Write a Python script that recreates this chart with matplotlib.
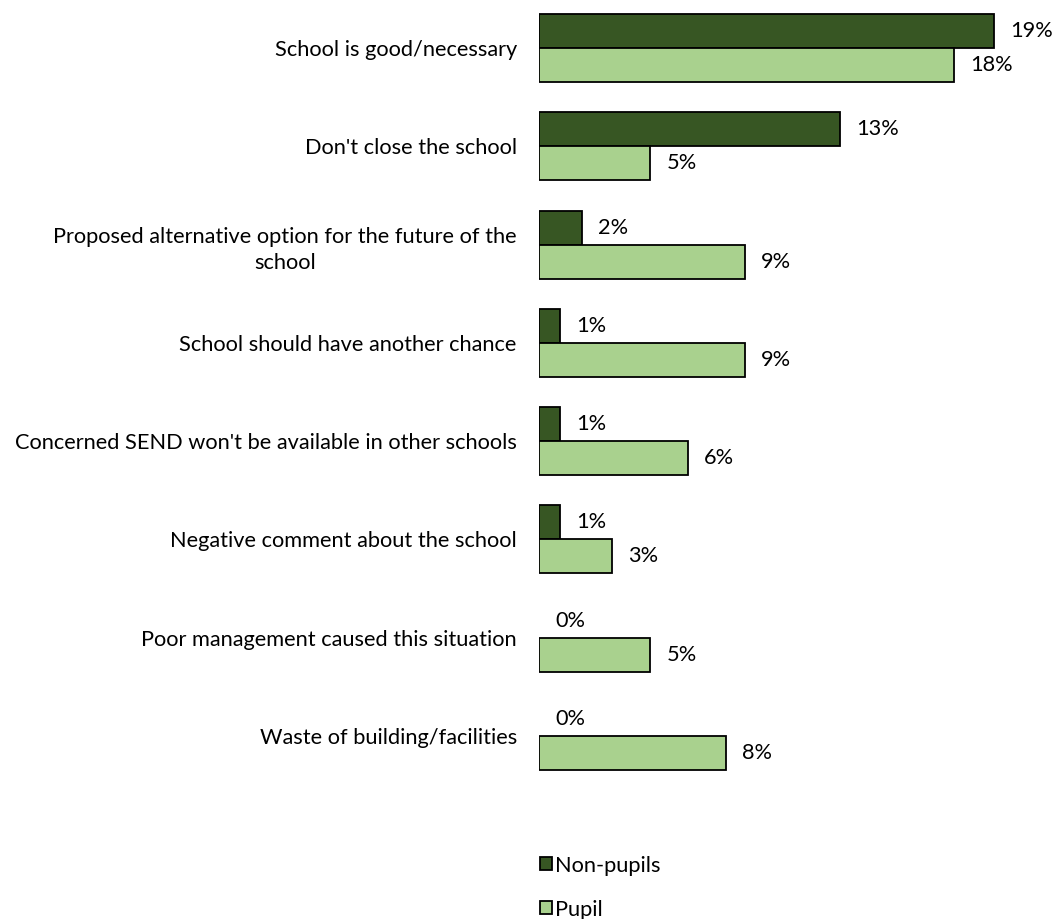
import matplotlib
matplotlib.use("Agg")
import matplotlib.pyplot as plt
import numpy as np
from matplotlib.patches import Patch

plt.rcParams['font.family'] = ['Lato', 'DejaVu Sans']

categories = [
    "School is good/necessary",
    "Don't close the school",
    "Proposed alternative option for the future of the\nschool",
    "School should have another chance",
    "Concerned SEND won't be available in other schools",
    "Negative comment about the school",
    "Poor management caused this situation",
    "Waste of building/facilities",
]
non_pupils = [19.2, 12.7, 1.8, 0.9, 0.9, 0.9, 0.0, 0.0]
pupil = [17.5, 4.7, 8.7, 8.7, 6.3, 3.1, 4.7, 7.9]
series_names = ["Non-pupils", "Pupil"]
colors = ["#375623", "#A9D18E"]

FS = 15.7
W, H = 1055, 919
fig = plt.figure(figsize=(W / 100, H / 100), dpi=100)
left_px, right_px = 539, 539 + 21 * 23.7
top_px, bot_px = -1, 785
ax = fig.add_axes([left_px / W, 1 - bot_px / H, (right_px - left_px) / W, (bot_px - top_px) / H])

y = np.arange(len(categories))
h = 0.345
lw1 = [1.3 if v > 0 else 0 for v in non_pupils]
lw2 = [1.3 if v > 0 else 0 for v in pupil]
b1 = ax.barh(y - h / 2, non_pupils, height=h, color=colors[0], edgecolor="black", linewidth=lw1, label=series_names[0])
b2 = ax.barh(y + h / 2, pupil, height=h, color=colors[1], edgecolor="black", linewidth=lw2, label=series_names[1])

for bars, vals in ((b1, non_pupils), (b2, pupil)):
    for rect, v in zip(bars, vals):
        ax.annotate(f"{v:.0f}%", xy=(rect.get_width(), rect.get_y() + rect.get_height() / 2),
                    xytext=(11.5, 0), textcoords="offset points", ha="left", va="center", fontsize=FS)

ax.set_xlim(0, 21)
ax.set_ylim(len(categories) - 0.5, -0.5)
ax.set_yticks(y)
ax.set_yticklabels(categories, fontsize=FS, multialignment="center", linespacing=1.4)
ax.tick_params(axis="y", length=0, pad=16)
ax.set_xticks([])
for s in ax.spines.values():
    s.set_visible(False)

handles = [Patch(facecolor=colors[0], edgecolor="black", linewidth=1.3),
           Patch(facecolor=colors[1], edgecolor="black", linewidth=1.3)]
fig.legend(handles=handles, labels=series_names, loc="upper left",
           bbox_to_anchor=(520 / W, 1 - 836 / H), frameon=False, fontsize=FS,
           handlelength=0.55, handleheight=0.55, handletextpad=0.15, labelspacing=1.1)

fig.savefig("out.png", dpi=100)
